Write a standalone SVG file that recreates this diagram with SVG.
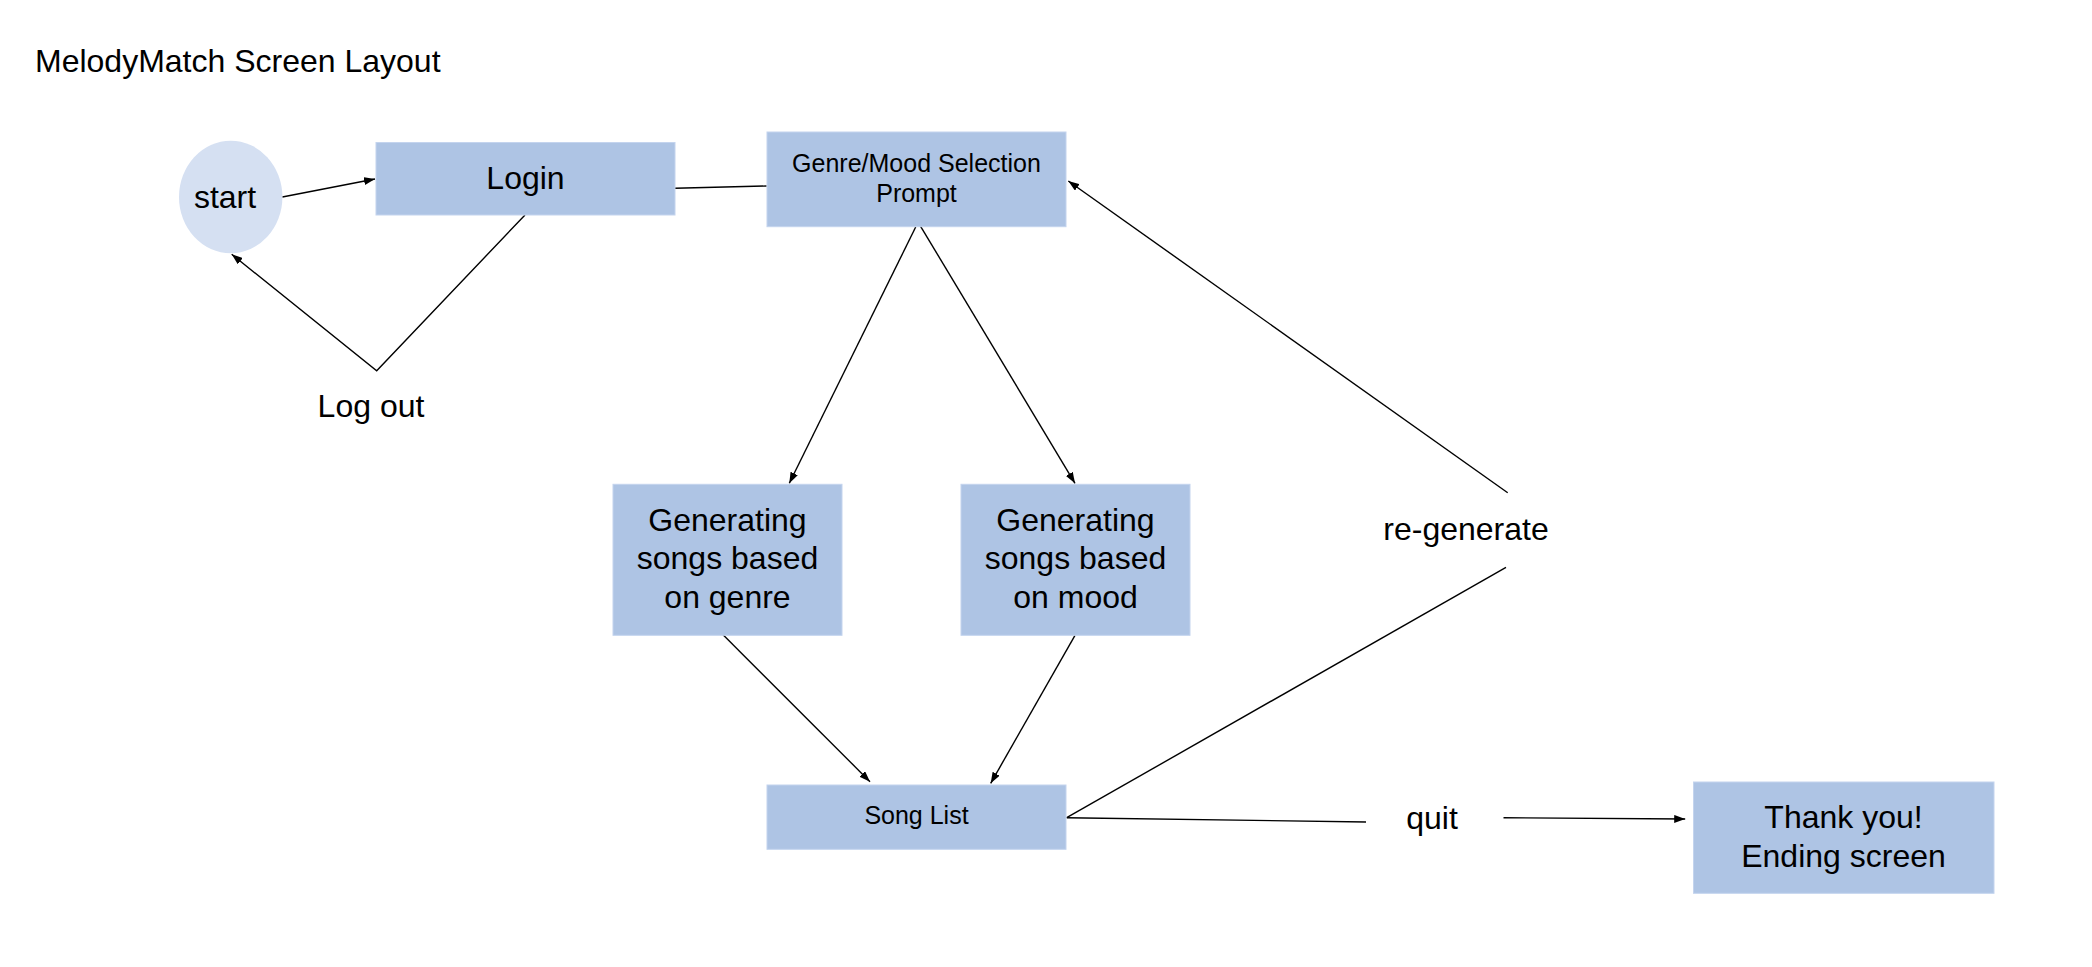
<svg xmlns="http://www.w3.org/2000/svg" width="2092" height="967" viewBox="0 0 2092 967">
<defs>
<marker id="ah" markerUnits="userSpaceOnUse" markerWidth="12" markerHeight="8" refX="11" refY="4" orient="auto">
<path d="M0,0 L11,4 L0,8 z" fill="#000"/>
</marker>
<style>
.box{fill:#aec4e4;stroke:#c4d4ee;stroke-width:1}
.oval{fill:#d5e0f2}
.t{font-family:"Liberation Sans",Arial,sans-serif;fill:#000;text-anchor:middle}
.big{font-size:32px}
.mid{font-size:25px}
.c{fill:none;stroke:#000;stroke-width:1.4}
.a{marker-end:url(#ah)}
</style>
</defs>
<rect width="2092" height="967" fill="#fff"/>
<text class="t big" x="35" y="72" style="text-anchor:start">MelodyMatch Screen Layout</text>

<g id="connectors">
<path class="c a" d="M282.3,197 L375,179"/>
<path class="c a" d="M525,215 L376.7,370.7 L231.7,254.3"/>
<path class="c" d="M675,188.3 L766.7,186"/>
<path class="c a" d="M915.7,227 L789.3,483.3"/>
<path class="c a" d="M920,225.3 L1075,483.3"/>
<path class="c a" d="M722.3,634 L870,781.7"/>
<path class="c a" d="M1075,635.3 L990.7,783.3"/>
<path class="c" d="M1066.7,817.7 L1506,567.3"/>
<path class="c a" d="M1507.7,492.7 L1068.3,181"/>
<path class="c" d="M1066.7,817.7 L1366,822"/>
<path class="c a" d="M1503.5,817.7 L1685.2,819"/>
<text class="t big" x="371" y="417">Log out</text>
<text class="t big" x="1466" y="540">re-generate</text>
<text class="t big" x="1432" y="829">quit</text>
</g>

<g id="start">
<ellipse class="oval" cx="230.7" cy="197" rx="51.7" ry="56.3"/>
<text class="t big" x="225" y="208">start</text>
</g>

<g id="login">
<rect class="box" x="376" y="142.5" width="299" height="72.5"/>
<text class="t big" x="525.5" y="189.3">Login</text>
</g>

<g id="genre-mood-prompt">
<rect class="box" x="767" y="132" width="299" height="94.7"/>
<text class="t mid" x="916.5" y="172.3">Genre/Mood Selection</text>
<text class="t mid" x="916.5" y="201.7">Prompt</text>
</g>

<g id="gen-genre">
<rect class="box" x="613" y="484.3" width="229" height="151"/>
<text class="t big" x="727.5" y="531">Generating</text>
<text class="t big" x="727.5" y="569.3">songs based</text>
<text class="t big" x="727.5" y="607.7">on genre</text>
</g>

<g id="gen-mood">
<rect class="box" x="961" y="484.3" width="229" height="151"/>
<text class="t big" x="1075.5" y="531">Generating</text>
<text class="t big" x="1075.5" y="569.3">songs based</text>
<text class="t big" x="1075.5" y="607.7">on mood</text>
</g>

<g id="song-list">
<rect class="box" x="767" y="785" width="299" height="64.3"/>
<text class="t mid" x="916.5" y="824.3">Song List</text>
</g>

<g id="thank-you">
<rect class="box" x="1693.5" y="782" width="300.5" height="111.3"/>
<text class="t big" x="1843.5" y="828.3">Thank you!</text>
<text class="t big" x="1843.5" y="866.7">Ending screen</text>
</g>
</svg>
